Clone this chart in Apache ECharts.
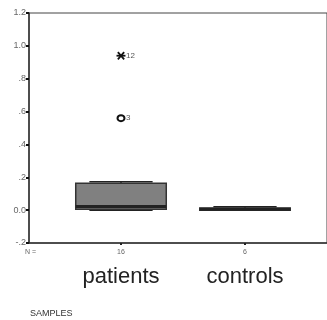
<!DOCTYPE html>
<html>
<head>
<meta charset="utf-8">
<script src="https://cdn.jsdelivr.net/npm/echarts@6/dist/echarts.min.js"></script>
<style>
  html, body { margin: 0; padding: 0; background: #fff; }
  #chart { width: 327px; height: 320px; }
</style>
</head>
<body>
<div id="chart"></div>
<script>
// data
var categories = ['patients', 'controls'];
var counts = ['16', '6'];
var lowWhisker = [0.0, 0.0];
var q1 = [0.005, 0.0];
var median = [0.022, 0.006];
var q3 = [0.163, 0.013];
var highWhisker = [0.173, 0.02];
// outliers: category index, value, case label, marker type
var outlierCat = [0, 0];
var outlierVal = [0.94, 0.56];
var outlierCase = ['12', '3'];
var outlierMark = ['star', 'circle'];
var yTickLabels = ['-.2', '0.0', '.2', '.4', '.6', '.8', '1.0', '1.2'];

var font = 'Liberation Sans, Arial, sans-serif';
var chart = echarts.init(document.getElementById('chart'));

var boxData = categories.map(function (c, i) {
  return [i, lowWhisker[i], q1[i], median[i], q3[i], highWhisker[i]];
});
var outData = outlierVal.map(function (v, i) {
  return [outlierCat[i], v, outlierCase[i], outlierMark[i]];
});

function renderBox(params, api) {
  var i = api.value(0);
  var x = api.coord([i, 0])[0];
  var band = api.size([1, 0])[0];
  var hb = band * 0.365, hc = band * 0.255;
  var yLo = api.coord([i, api.value(1)])[1];
  var yQ1 = api.coord([i, api.value(2)])[1];
  var yMed = api.coord([i, api.value(3)])[1];
  var yQ3 = api.coord([i, api.value(4)])[1];
  var yHi = api.coord([i, api.value(5)])[1];
  var ln = { stroke: '#222', lineWidth: 1.5 };
  return {
    type: 'group',
    children: [
      { type: 'line', shape: { x1: x, y1: yHi, x2: x, y2: yQ3 }, style: ln },
      { type: 'line', shape: { x1: x, y1: yLo, x2: x, y2: yQ1 }, style: ln },
      { type: 'line', shape: { x1: x - hc, y1: yHi, x2: x + hc, y2: yHi }, style: ln },
      { type: 'line', shape: { x1: x - hc, y1: yLo, x2: x + hc, y2: yLo }, style: ln },
      { type: 'rect', shape: { x: x - hb, y: yQ3, width: hb * 2, height: Math.max(yQ1 - yQ3, 1) },
        style: { fill: '#808080', stroke: '#333', lineWidth: 1.5 } },
      { type: 'line', shape: { x1: x - hb, y1: yMed, x2: x + hb, y2: yMed }, style: { stroke: '#222', lineWidth: 3 } }
    ]
  };
}

function renderOutlier(params, api) {
  var p = api.coord([api.value(0), api.value(1)]);
  var kind = outData[params.dataIndex][3];
  var label = outData[params.dataIndex][2];
  var children = [];
  if (kind === 'star') {
    var r = 4.5;
    var st = { stroke: '#111', lineWidth: 1.8 };
    children.push({ type: 'line', shape: { x1: p[0] - r, y1: p[1], x2: p[0] + r, y2: p[1] }, style: st });
    children.push({ type: 'line', shape: { x1: p[0] - r * 0.7, y1: p[1] - r * 0.8, x2: p[0] + r * 0.7, y2: p[1] + r * 0.8 }, style: st });
    children.push({ type: 'line', shape: { x1: p[0] - r * 0.7, y1: p[1] + r * 0.8, x2: p[0] + r * 0.7, y2: p[1] - r * 0.8 }, style: st });
  } else {
    children.push({ type: 'ellipse', shape: { cx: p[0], cy: p[1], rx: 3.5, ry: 3 }, style: { fill: '#fff', stroke: '#111', lineWidth: 2 } });
  }
  children.push({ type: 'text', x: p[0] + 5, y: p[1], style: { text: label, fill: '#555', font: '8px ' + font, verticalAlign: 'middle' } });
  return { type: 'group', children: children };
}

chart.setOption({
  animation: false,
  grid: [
    { left: 29, right: -2, top: 13, bottom: 77, show: true, borderColor: '#444', borderWidth: 1 },
    { left: 59, right: 20, top: 13, bottom: 77 }
  ],
  xAxis: [
    { gridIndex: 0, type: 'value', min: 0, max: 1, position: 'bottom',
      axisLine: { show: true, onZero: false, lineStyle: { color: '#333', width: 1.5 } },
      axisTick: { show: false }, axisLabel: { show: false }, splitLine: { show: false } },
    { gridIndex: 1, type: 'category', data: categories, position: 'bottom',
      axisLine: { show: false, onZero: false },
      axisTick: { show: true, alignWithLabel: true, length: 2, lineStyle: { color: '#222', width: 2 } },
      axisLabel: { margin: 6, fontSize: 7, color: '#666', fontFamily: font,
        formatter: function (v, i) { return counts[i]; } } },
    { gridIndex: 1, type: 'category', data: categories, position: 'bottom',
      axisLine: { show: false, onZero: false }, axisTick: { show: false },
      axisLabel: { margin: 23, fontSize: 22, color: '#222', fontFamily: font } }
  ],
  yAxis: [
    { gridIndex: 0, type: 'value', min: -0.2, max: 1.2, interval: 0.2,
      axisLine: { show: true, onZero: false, lineStyle: { color: '#333', width: 1.5 } },
      axisTick: { show: true, length: 3, lineStyle: { color: '#111', width: 2 } },
      axisLabel: { margin: 3, fontSize: 9, color: '#666', fontFamily: font,
        formatter: function (v, i) { return yTickLabels[i]; } },
      splitLine: { show: false } },
    { gridIndex: 1, type: 'value', min: -0.2, max: 1.2, interval: 0.2,
      axisLine: { show: false, onZero: false }, axisTick: { show: false },
      axisLabel: { show: false }, splitLine: { show: false } }
  ],
  series: [
    { type: 'custom', xAxisIndex: 1, yAxisIndex: 1, renderItem: renderBox,
      encode: { x: 0, y: [1, 2, 3, 4, 5] }, data: boxData },
    { type: 'custom', xAxisIndex: 1, yAxisIndex: 1, renderItem: renderOutlier,
      encode: { x: 0, y: 1 }, data: outData }
  ],
  graphic: [
    { type: 'text', left: 25, top: 249, style: { text: 'N =', fill: '#666', font: '7px ' + font } },
    { type: 'text', left: 30, top: 309, style: { text: 'SAMPLES', fill: '#333', font: '9px ' + font } }
  ]
});
</script>
</body>
</html>
